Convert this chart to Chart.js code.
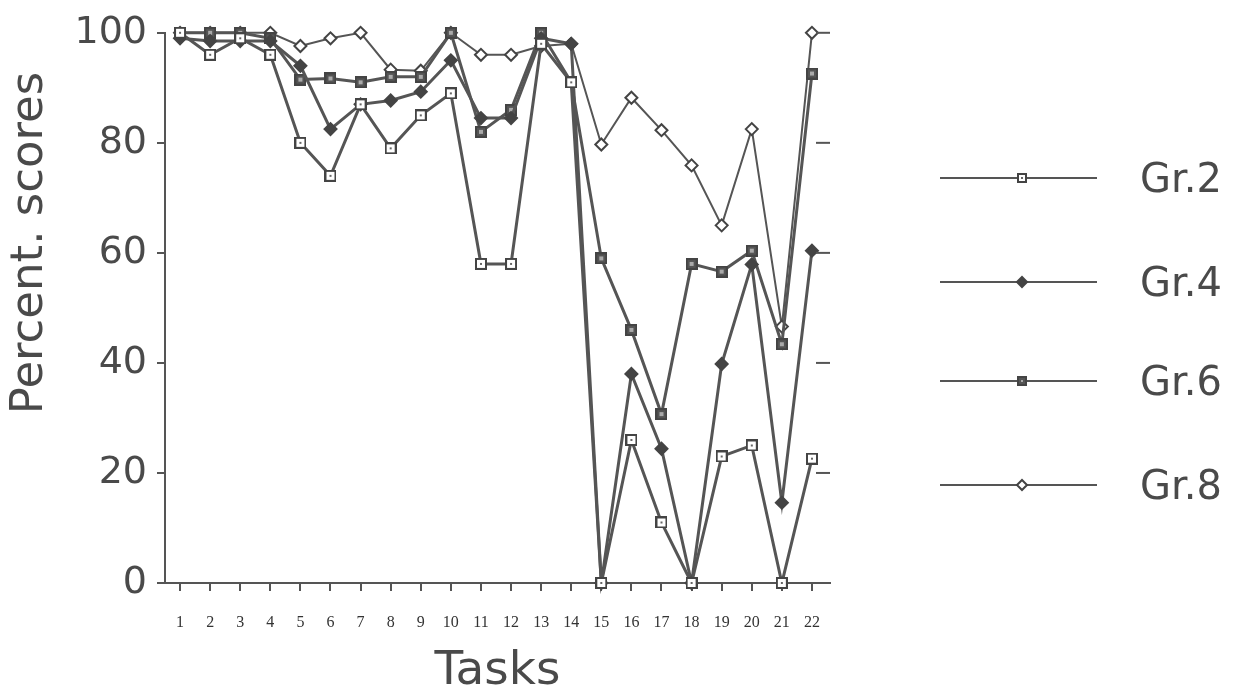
<!DOCTYPE html>
<html>
<head>
<meta charset="utf-8">
<script src="https://cdn.jsdelivr.net/npm/chart.js@4/dist/chart.umd.min.js"></script>
<style>
  html, body { margin: 0; padding: 0; background: #fff; }
  #wrap { width: 1239px; height: 699px; position: relative; }
</style>
</head>
<body>
<div id="wrap"><canvas id="chart"></canvas></div>
<script>
const taskLabels = ["1","2","3","4","5","6","7","8","9","10","11","12","13","14","15","16","17","18","19","20","21","22"]
const yTicks = [0, 20, 40, 60, 80, 100]

const gr2 = [100, 96, 99, 96, 80, 74, 87, 79, 85, 89, 58, 58, 98, 91, 0, 26, 11, 0, 23, 25, 0, 22.6]
const gr4 = [99, 98.5, 98.5, 98.5, 94, 82.5, 87, 87.7, 89.3, 95, 84.5, 84.5, 99, 98, 0, 38, 24.4, 0, 39.8, 57.9, 14.6, 60.4]
const gr6 = [100, 100, 100, 99, 91.5, 91.7, 91, 92, 92, 100, 82, 86, 100, 91, 59, 46, 30.7, 58, 56.6, 60.4, 43.4, 92.6]
const gr8 = [100, 100, 100, 100, 97.6, 99, 100, 93.3, 93.1, 100, 96, 96, 97.6, 98, 79.7, 88.2, 82.3, 75.9, 65, 82.5, 46.6, 100]

const ink = "#555"
const textColor = "#4a4a4a"
const font = "'DejaVu Sans', Verdana, sans-serif"

// square markers with a small centre, like the old Mac plot symbols
function squareMarker(size, fill, inner, innerSize) {
  const c = document.createElement("canvas")
  c.width = size
  c.height = size
  const g = c.getContext("2d")
  g.fillStyle = fill
  g.fillRect(1, 1, size - 2, size - 2)
  g.strokeStyle = "#444"
  g.lineWidth = 2
  g.strokeRect(1, 1, size - 2, size - 2)
  g.fillStyle = inner
  const o = (size - innerSize) / 2
  g.fillRect(o, o, innerSize, innerSize)
  return c
}

const openSquare = squareMarker(12, "#fff", "#666", 2)
const filledSquare = squareMarker(12, "#555", "#aaa", 4)
const openSquareSmall = squareMarker(10, "#fff", "#666", 2)
const filledSquareSmall = squareMarker(10, "#555", "#aaa", 2)

// legend on the right: long line with the marker in the middle
const sideLegend = {
  id: "sideLegend",
  afterDraw(chart) {
    const ctx = chart.ctx
    const rows = [178, 282, 381, 485]
    const small = [openSquareSmall, null, filledSquareSmall, null]
    chart.data.datasets.forEach((ds, i) => {
      const y = rows[i]
      ctx.save()
      ctx.strokeStyle = ink
      ctx.lineWidth = 2
      ctx.beginPath()
      ctx.moveTo(940, y)
      ctx.lineTo(1097, y)
      ctx.stroke()
      ctx.fillStyle = ds.pointBackgroundColor
      ctx.strokeStyle = ds.pointBorderColor
      ctx.lineWidth = 2
      Chart.helpers.drawPoint(ctx, { pointStyle: small[i] || ds.pointStyle, radius: ds.pointRadius - 1, rotation: 0, borderWidth: 2 }, 1022, y)
      ctx.fillStyle = textColor
      ctx.font = "40px " + font
      ctx.textBaseline = "middle"
      ctx.textAlign = "left"
      ctx.fillText(ds.label, 1140, y + 4)
      ctx.restore()
    })
  }
}

// short inward ticks on the right edge, and the y title sitting above centre like the original
const axisExtras = {
  id: "axisExtras",
  afterDraw(chart) {
    const ctx = chart.ctx
    const yScale = chart.scales.y
    const right = chart.chartArea.right
    ctx.save()
    ctx.strokeStyle = ink
    ctx.lineWidth = 2
    yTicks.filter(v => v > 0).forEach(v => {
      const py = yScale.getPixelForValue(v)
      ctx.beginPath()
      ctx.moveTo(right - 14, py)
      ctx.lineTo(right, py)
      ctx.stroke()
    })
    ctx.translate(30, 243)
    ctx.rotate(-Math.PI / 2)
    ctx.fillStyle = textColor
    ctx.font = "45px " + font
    ctx.textAlign = "center"
    ctx.textBaseline = "middle"
    ctx.fillText("Percent. scores", 0, 0)
    ctx.restore()
  }
}

function series(label, data, style, fill, radius, width) {
  return {
    label,
    data,
    borderColor: ink,
    borderWidth: width,
    pointStyle: style,
    pointRadius: radius,
    pointBorderWidth: 2,
    pointBackgroundColor: fill,
    pointBorderColor: "#444",
    tension: 0,
    clip: false
  }
}

new Chart(document.getElementById("chart"), {
  type: "line",
  data: {
    labels: taskLabels,
    datasets: [
      series("Gr.2", gr2, openSquare, "#fff", 7, 3),
      series("Gr.4", gr4, "rectRot", "#444", 6, 3),
      series("Gr.6", gr6, filledSquare, "#555", 7, 3),
      series("Gr.8", gr8, "rectRot", "#fff", 6, 2)
    ]
  },
  options: {
    responsive: true,
    maintainAspectRatio: false,
    animation: false,
    layout: { padding: { top: 30, right: 409, left: 0, bottom: 0 } },
    plugins: {
      legend: { display: false },
      tooltip: { enabled: false }
    },
    scales: {
      x: {
        type: "linear",
        min: 0.5,
        max: 22.6,
        afterFit(scale) { scale.height = 116 },
        afterBuildTicks(scale) { scale.ticks = taskLabels.map(l => ({ value: Number(l) })) },
        border: { color: ink, width: 2 },
        grid: { drawOnChartArea: false, drawTicks: true, tickLength: 8, color: ink, lineWidth: 2 },
        ticks: {
          autoSkip: false,
          maxRotation: 0,
          padding: 22,
          color: "#333",
          font: { family: "'Liberation Serif', serif", size: 16 },
          callback: (v, i) => taskLabels[i]
        },
        title: {
          display: true,
          text: "Tasks",
          color: textColor,
          font: { family: font, size: 47, lineHeight: 1 },
          padding: { top: 0, bottom: 4 }
        }
      },
      y: {
        min: 0,
        max: 100,
        afterFit(scale) { scale.width = 165 },
        afterBuildTicks(scale) { scale.ticks = yTicks.map(v => ({ value: v })) },
        border: { color: ink, width: 2 },
        grid: { drawOnChartArea: false, drawTicks: true, tickLength: 8, color: ink, lineWidth: 2 },
        ticks: {
          padding: 10,
          color: textColor,
          font: { family: font, size: 38 }
        }
      }
    }
  },
  plugins: [sideLegend, axisExtras]
})
</script>
</body>
</html>
